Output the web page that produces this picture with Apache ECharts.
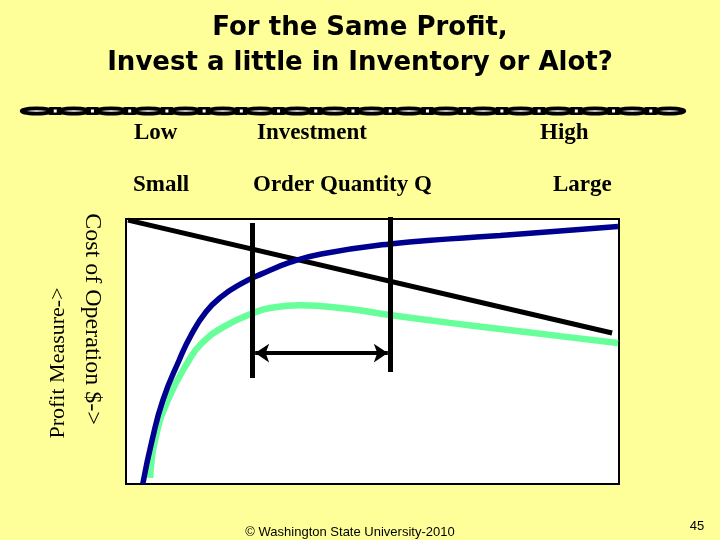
<!DOCTYPE html>
<html>
<head>
<meta charset="utf-8">
<script src="https://cdn.jsdelivr.net/npm/echarts@6/dist/echarts.min.js"></script>
<style>
html,body{margin:0;padding:0;background:#FFFF99;}
#c{width:720px;height:540px;}
</style>
</head>
<body>
<div id="c"></div>
<script>
// ---- data (x: order quantity 0..100, y: measure 0..100) ----
const costCurve = [[3.4,0],[5.3,16.6],[7.5,31.7],[10.8,46.8],[13.2,56.2],[16.2,64.9],[19.3,70.6],[23.3,75.5],[27.4,79.2],[33.5,83.8],[39.6,86.8],[53.5,90.6],[65.7,92.5],[75.9,93.8],[88.0,95.5],[99.8,97.2]];
const profitCurve = [[4.9,2.3],[5.9,16.6],[8.5,31.7],[12.8,46.8],[15.4,53.2],[19.7,59.2],[25.8,64.5],[29.2,66.4],[35.3,67.5],[45.4,66.0],[53.5,63.8],[65.7,60.8],[75.9,58.5],[88.0,55.8],[99.8,53.2]];
const declineLine = [[0.4,99.6],[98.6,57.0]];
const boundLow = [[25.6,98.5],[25.6,40.0]];
const boundHigh = [[53.5,100.8],[53.5,42.3]];
const rangeArrow = [[26.2,49.4],[53.1,49.4]];

const titleLines = ['For the Same Profit,','Invest a little in Inventory or Alot?'];
const topLabels = ['Low','Investment','High'];
const bottomLabels = ['Small','Order Quantity Q','Large'];
const yLabelCost = 'Cost of Operation $->';
const yLabelProfit = 'Profit Measure->';
const footer = '\u00A9 Washington State University-2010';
const pageNo = '45';

const chart = echarts.init(document.getElementById('c'), null, {renderer:'canvas'});

// decorative chain
const chain = [];
const cStart = 18, cEnd = 688, nLinks = 18, cy = 111;
const period = (cEnd - cStart) / nLinks;
for (let i = 1; i < nLinks; i++) {
  const x = cStart + period * i;
  chain.push({type:'rect', shape:{x:x-6,y:cy-4,width:12,height:8}, style:{fill:'#000'}, z:10});
  chain.push({type:'rect', shape:{x:x-1.5,y:cy-1.5,width:3,height:3}, style:{fill:'#fff'}, z:12});
}
for (let i = 0; i < nLinks; i++) {
  const x = cStart + period * (i + 0.5);
  chain.push({type:'ellipse', shape:{cx:x,cy:cy,rx:period*0.4,ry:2.6}, style:{fill:'#fff',stroke:'#000',lineWidth:3.8}, z:11});
}

const serif = 'Liberation Serif';
function txt(t, x, y, size, opts) {
  opts = opts || {};
  return Object.assign({type:'text', x:x, y:y, z:20, style:{text:t, fill:'#000', font:(opts.weight||'bold') + ' ' + size + 'px ' + (opts.family||serif), align:opts.align||'left', verticalAlign:'middle'}}, opts.extra||{});
}

const graphics = chain.concat([
  txt(titleLines[0], 360, 28, 26, {family:'DejaVu Sans', align:'center'}),
  txt(titleLines[1], 360, 63, 26, {family:'DejaVu Sans', align:'center'}),
  txt(topLabels[0], 134, 133, 23),
  txt(topLabels[1], 257, 133, 23),
  txt(topLabels[2], 540, 133, 23),
  txt(bottomLabels[0], 133, 185, 23),
  txt(bottomLabels[1], 253, 185, 23),
  txt(bottomLabels[2], 553, 185, 23),
  txt(yLabelCost, 92, 319, 24, {weight:'normal', align:'center', extra:{rotation:-Math.PI/2}}),
  txt(yLabelProfit, 58, 363, 22, {weight:'normal', align:'center', extra:{rotation:Math.PI/2}}),
  txt(footer, 350, 532, 13, {weight:'normal', family:'Liberation Sans', align:'center'}),
  txt(pageNo, 697, 526, 13, {weight:'normal', family:'Liberation Sans', align:'center'})
]);

chart.setOption({
  backgroundColor:'#FFFF99',
  animation:false,
  grid:{left:126, top:219, width:493, height:265, show:true, backgroundColor:'#fff', borderColor:'#000', borderWidth:2},
  xAxis:{type:'value', min:0, max:100, show:false},
  yAxis:{type:'value', min:0, max:100, show:false},
  graphic:graphics,
  series:[
    {type:'line', data:declineLine, showSymbol:false, lineStyle:{color:'#000', width:5}, z:2},
    {type:'line', data:profitCurve, smooth:0.5, showSymbol:false, lineStyle:{color:'#66FF99', width:6.5}, z:3},
    {type:'line', data:costCurve, smooth:0.5, showSymbol:false, lineStyle:{color:'#000090', width:5.5}, z:4},
    {type:'lines', coordinateSystem:'cartesian2d', z:5,
      lineStyle:{color:'#000', width:5, opacity:1},
      data:[{coords:boundLow},{coords:boundHigh}]},
    {type:'lines', coordinateSystem:'cartesian2d', z:5,
      symbol:['arrow','arrow'], symbolSize:14,
      lineStyle:{color:'#000', width:4, opacity:1},
      data:[{coords:rangeArrow}]}
  ]
});
</script>
</body>
</html>
